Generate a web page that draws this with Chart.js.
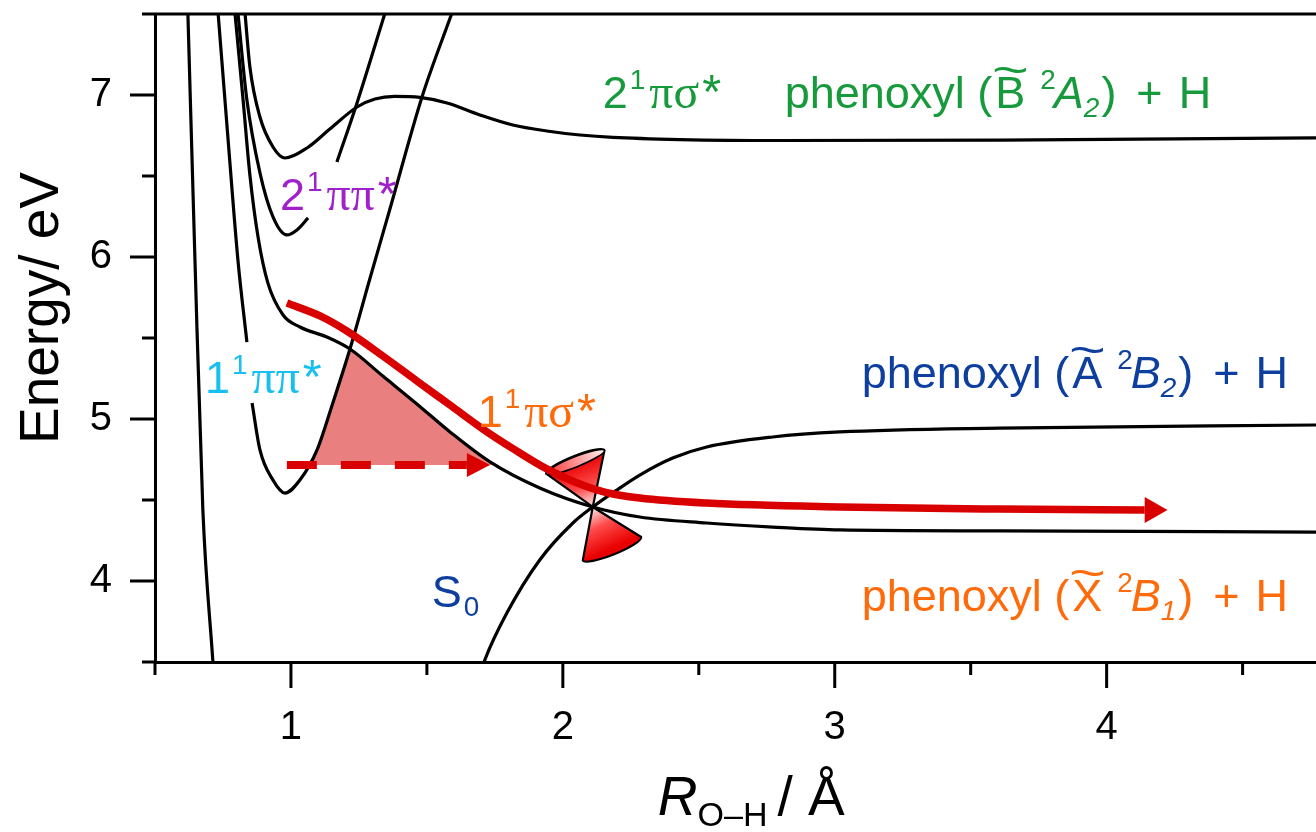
<!DOCTYPE html>
<html>
<head>
<meta charset="utf-8">
<title>Phenol O-H dissociation potentials</title>
<script src="https://cdn.jsdelivr.net/npm/chart.js@4.4.1/dist/chart.umd.min.js"></script>
<style>
  html, body { margin: 0; padding: 0; background: #fff; }
  #wrap { width: 1316px; height: 832px; }
</style>
</head>
<body>
<div id="wrap"><canvas id="pes" width="1316" height="832"></canvas></div>
<script>
// ─── DATA (R in Å, energy in eV) ──────────────────────────────────
const xRange = [0.5, 4.77];
const yRange = [3.5, 7.5];

const s0Wall = [[0.621, 7.5], [0.647, 5.98], [0.676, 4.44], [0.713, 3.5]];

const pipi1 = [
  [0.732, 7.506], [0.768, 6.741], [0.805, 5.981], [0.838, 5.475], [0.846, null],
  [0.857, 5.099], [0.886, 4.809], [0.934, 4.623], [0.978, 4.543], [1.033, 4.623],
  [1.096, 4.809], [1.154, 5.099], [1.217, 5.432], [1.290, 5.864], [1.364, 6.296],
  [1.482, 6.988], [1.592, 7.506]
];

const pisig1 = [
  [0.794, 7.506], [0.824, 6.969], [0.849, 6.506], [0.879, 6.123], [0.915, 5.840],
  [0.971, 5.642], [1.033, 5.568], [1.132, 5.506], [1.217, 5.432], [1.338, 5.265],
  [1.463, 5.093], [1.585, 4.920], [1.732, 4.735], [1.915, 4.574], [2.110, 4.457],
  [2.283, 4.395], [2.529, 4.358], [2.772, 4.333], [3.018, 4.315], [3.607, 4.309],
  [4.770, 4.302]
];

const pipi2 = [
  [0.805, 7.506], [0.838, 6.969], [0.886, 6.519], [0.934, 6.247], [0.985, 6.136],
  [1.022, 6.167], [1.063, 6.241], [1.10, null], [1.169, 6.586], [1.243, 6.951],
  [1.346, 7.506]
];

const pisig2 = [
  [0.831, 7.506], [0.849, 7.173], [0.886, 6.864], [0.934, 6.679], [0.978, 6.611],
  [1.059, 6.673], [1.143, 6.790], [1.243, 6.926], [1.309, 6.975], [1.382, 6.991],
  [1.474, 6.985], [1.574, 6.951], [1.695, 6.877], [1.816, 6.815], [1.941, 6.778],
  [2.063, 6.753], [2.184, 6.738], [2.430, 6.725], [2.798, 6.719], [3.607, 6.722],
  [4.770, 6.735]
];

const s0Rise = [
  [1.699, 3.438], [1.713, 3.512], [1.794, 3.802], [1.915, 4.130], [2.037, 4.358],
  [2.110, 4.457], [2.199, 4.562], [2.283, 4.654], [2.404, 4.759], [2.529, 4.827],
  [2.772, 4.889], [3.018, 4.920], [3.607, 4.944], [4.770, 4.963]
];

// conical intersection and the red arrows
const ciPoint = [2.110, 4.457];
const dashLevel = 4.716;
const dashPath = [[0.985, dashLevel], [1.647, dashLevel]];
const dashTip = [1.732, dashLevel];
const arrowPath = [
  [0.985, 5.716], [1.107, 5.636], [1.217, 5.531], [1.338, 5.389], [1.463, 5.235],
  [1.585, 5.086], [1.706, 4.938], [1.824, 4.809], [1.934, 4.698], [2.044, 4.611],
  [2.154, 4.549], [2.283, 4.512], [2.529, 4.481], [3.018, 4.457], [3.607, 4.444],
  [4.140, 4.438]
];
const arrowTip = [4.224, 4.438];
const barrierPatch = [
  [1.0625, dashLevel], [1.096, 4.809], [1.154, 5.099], [1.217, 5.432], [1.338, 5.265],
  [1.463, 5.093], [1.585, 4.920], [1.732, 4.735], [1.750, dashLevel]
];

// ─── STYLE ────────────────────────────────────────────────
const SANS = "'Liberation Sans', Arial, Helvetica, sans-serif";
const SERIF = "'Liberation Serif', 'Times New Roman', serif";
const RED = '#d90000';
const GREEN = '#169a3c';
const PURPLE = '#a020cc';
const CYAN = '#18c0f0';
const ORANGE = '#ff6a0a';
const BLUE = '#0e3f9e';
const LABEL_SIZE = 45;

const stateRuns = (n, greek) => [[n], [2], ['1', 'sup'], [4], [greek, 'g'], [3], ['*', 'star']];
const radicalRuns = (state, sym, sub) => [
  ['phenoxyl ('], [3], [state, 'tilde'], [15], ['2', 'sup'], [-2], [sym, 'i'], [sub, 'isub'],
  [2], [')'], [20], ['+'], [16], ['H']
];

const labels = [
  { at: [0.96, 6.29], color: PURPLE, runs: stateRuns('2', 'ππ') },
  { at: [2.147, 6.92], color: GREEN, runs: stateRuns('2', 'πσ') },
  { at: [2.816, 6.92], color: GREEN, runs: radicalRuns('B', 'A', '2') },
  { at: [0.684, 5.16], color: CYAN, runs: stateRuns('1', 'ππ') },
  { at: [1.687, 4.95], color: ORANGE, runs: stateRuns('1', 'πσ') },
  { at: [3.099, 5.19], color: BLUE, runs: radicalRuns('A', 'B', '2') },
  { at: [1.518, 3.84], color: BLUE, runs: [['S'], [2], ['0', 'sub']] },
  { at: [3.099, 3.815], color: ORANGE, runs: radicalRuns('X', 'B', '1') }
];

// ─── UTILS ────────────────────────────────────────────────
const pts = arr => arr.map(([x, y]) => ({ x, y }));

function drawRich(ctx, x, y, runs, size) {
  let cx = x;
  ctx.textBaseline = 'alphabetic';
  ctx.textAlign = 'left';
  for (const [t, kind] of runs) {
    if (typeof t === 'number') { cx += t; continue; }
    let fs = size, dy = 0, italic = false, fam = SANS;
    if (kind === 'sup') { fs = size * 0.62; dy = -size * 0.42; }
    if (kind === 'sub' || kind === 'isub') { fs = size * 0.62; dy = size * 0.2; }
    if (kind === 'i' || kind === 'isub') italic = true;
    if (kind === 'g') { fam = SERIF; fs = size * 1.06; }
    if (kind === 'star') fs = size * 1.08;
    ctx.font = (italic ? 'italic ' : '') + fs + 'px ' + fam;
    ctx.fillText(t, cx, y + dy);
    const w = ctx.measureText(t).width;
    if (kind === 'tilde') {
      ctx.save();
      ctx.translate(cx + w / 2, y - size * 0.52);
      ctx.scale(1.4, 1);
      ctx.textAlign = 'center';
      ctx.fillText('~', 0, 0);
      ctx.restore();
    }
    cx += w;
  }
  return cx - x;
}

function drawCone(ctx, ax, ay, p1, p2, below) {
  const x1 = ax + p1[0], y1 = ay + p1[1], x2 = ax + p2[0], y2 = ay + p2[1];
  const mx = (x1 + x2) / 2, my = (y1 + y2) / 2;
  const a = Math.hypot(x2 - x1, y2 - y1) / 2, b = 6;
  const rot = Math.atan2(y2 - y1, x2 - x1);
  const g = ctx.createLinearGradient(ax, ay, mx, my);
  g.addColorStop(0, '#ffeaea');
  g.addColorStop(0.45, '#ff4a4a');
  g.addColorStop(1, '#e80000');
  ctx.beginPath();
  ctx.moveTo(ax, ay);
  ctx.lineTo(x1, y1);
  if (below) ctx.ellipse(mx, my, a, b, rot, Math.PI, 0, true);
  else ctx.ellipse(mx, my, a, b, rot, Math.PI, 2 * Math.PI, false);
  ctx.closePath();
  ctx.fillStyle = g;
  ctx.fill();
  ctx.lineWidth = 2.2;
  ctx.lineJoin = 'round';
  ctx.strokeStyle = '#000';
  ctx.stroke();
  if (!below) {
    const lg = ctx.createLinearGradient(x1, y1, x2, y2);
    lg.addColorStop(0, '#ff3030');
    lg.addColorStop(1, '#fff0f0');
    ctx.beginPath();
    ctx.ellipse(mx, my, a, b - 1, rot, 0, 2 * Math.PI);
    ctx.fillStyle = lg;
    ctx.fill();
    ctx.lineWidth = 1.6;
    ctx.stroke();
  }
}

function arrowHead(ctx, tipX, tipY, len, half) {
  ctx.beginPath();
  ctx.moveTo(tipX, tipY);
  ctx.lineTo(tipX - len, tipY - half);
  ctx.lineTo(tipX - len, tipY + half);
  ctx.closePath();
  ctx.fillStyle = RED;
  ctx.fill();
}

// ─── PLUGINS ──────────────────────────────────────────────
const decor = {
  id: 'decor',
  beforeDatasetsDraw(chart) {
    const { ctx, scales: { x, y } } = chart;
    const ax = x.getPixelForValue(ciPoint[0]), ay = y.getPixelForValue(ciPoint[1]);
    ctx.save();
    drawCone(ctx, ax, ay, [-46.6, -33.3], [11.7, -56.6], false);
    drawCone(ctx, ax, ay, [-10, 53.4], [48.4, 30], true);
    ctx.restore();
  },
  afterDatasetsDraw(chart) {
    const { ctx, scales: { x, y } } = chart;
    ctx.save();
    const last = arrowPath[arrowPath.length - 1];
    const tx = x.getPixelForValue(arrowTip[0]);
    arrowHead(ctx, tx, y.getPixelForValue(arrowTip[1]), tx - x.getPixelForValue(last[0]), 13);
    const dx = x.getPixelForValue(dashTip[0]);
    const dEnd = dashPath[dashPath.length - 1];
    arrowHead(ctx, dx, y.getPixelForValue(dashTip[1]), dx - x.getPixelForValue(dEnd[0]), 12);

    labels.forEach(l => {
      ctx.fillStyle = l.color;
      drawRich(ctx, x.getPixelForValue(l.at[0]), y.getPixelForValue(l.at[1]), l.runs, LABEL_SIZE);
    });
    ctx.restore();
  },
  afterDraw(chart) {
    const { ctx, chartArea: a, scales: { x, y } } = chart;
    ctx.save();
    ctx.strokeStyle = '#000';
    ctx.lineWidth = 3;
    ctx.beginPath();
    x.ticks.forEach(t => {
      const px = x.getPixelForValue(t.value);
      const len = Number.isInteger(t.value) ? 26 : 13;
      ctx.moveTo(px, a.bottom);
      ctx.lineTo(px, a.bottom + len);
    });
    y.ticks.forEach(t => {
      const py = y.getPixelForValue(t.value);
      const len = Number.isInteger(t.value) ? 25 : 13;
      ctx.moveTo(a.left, py);
      ctx.lineTo(a.left - len, py);
    });
    ctx.moveTo(a.left - 1.5, a.top);
    ctx.lineTo(a.right, a.top);
    ctx.stroke();

    // axis titles
    ctx.fillStyle = '#000';
    ctx.save();
    ctx.translate(58, 308);
    ctx.rotate(-Math.PI / 2);
    ctx.font = '55px ' + SANS;
    ctx.textAlign = 'center';
    ctx.textBaseline = 'alphabetic';
    ctx.fillText('Energy/ eV', 0, 0);
    ctx.restore();

    drawRich(ctx, x.getPixelForValue(2.349), a.bottom + 153,
      [['R', 'i'], ['O–H', 'sub'], [10], ['/ Å']], 55);
    ctx.restore();
  }
};

// ─── CHART ────────────────────────────────────────────────
const blackCurve = data => ({
  data: pts(data),
  borderColor: '#000',
  borderWidth: 3.2,
  pointRadius: 0,
  cubicInterpolationMode: 'monotone',
  fill: false,
  order: 5
});

new Chart(document.getElementById('pes'), {
  type: 'line',
  data: {
    datasets: [
      {
        data: pts(barrierPatch),
        borderWidth: 0,
        pointRadius: 0,
        tension: 0,
        fill: { value: dashLevel },
        backgroundColor: 'rgba(214, 0, 0, 0.5)',
        order: 9
      },
      blackCurve(s0Wall),
      blackCurve(pipi1),
      blackCurve(pisig1),
      blackCurve(pipi2),
      blackCurve(pisig2),
      blackCurve(s0Rise),
      {
        data: pts(dashPath),
        borderColor: RED,
        borderWidth: 8,
        borderDash: [30, 24],
        borderCapStyle: 'butt',
        pointRadius: 0,
        fill: false,
        order: 1
      },
      {
        data: pts(arrowPath),
        borderColor: RED,
        borderWidth: 7.5,
        borderCapStyle: 'butt',
        pointRadius: 0,
        cubicInterpolationMode: 'monotone',
        fill: false,
        order: 1
      }
    ]
  },
  options: {
    responsive: false,
    animation: false,
    devicePixelRatio: 1,
    layout: { padding: { top: 14, right: 0, bottom: 0, left: 0 } },
    plugins: { legend: { display: false }, tooltip: { enabled: false } },
    scales: {
      x: {
        type: 'linear',
        min: xRange[0],
        max: xRange[1],
        afterFit: s => { s.height = 170; s.paddingLeft = 0; s.paddingRight = 0; },
        grid: { display: false, drawTicks: false },
        border: { display: true, width: 3, color: '#000' },
        ticks: {
          stepSize: 0.5,
          includeBounds: false,
          autoSkip: false,
          maxRotation: 0,
          padding: 42,
          color: '#000',
          font: { size: 40, family: SANS },
          callback: v => Number.isInteger(v) ? String(v) : ''
        }
      },
      y: {
        type: 'linear',
        min: yRange[0],
        max: yRange[1],
        afterFit: s => { s.width = 155; s.paddingTop = 0; s.paddingBottom = 0; },
        grid: { display: false, drawTicks: false },
        border: { display: true, width: 3, color: '#000' },
        ticks: {
          stepSize: 0.5,
          includeBounds: false,
          autoSkip: false,
          padding: 43,
          color: '#000',
          font: { size: 40, family: SANS },
          callback: v => Number.isInteger(v) ? String(v) : ''
        }
      }
    }
  },
  plugins: [decor]
});
</script>
</body>
</html>
